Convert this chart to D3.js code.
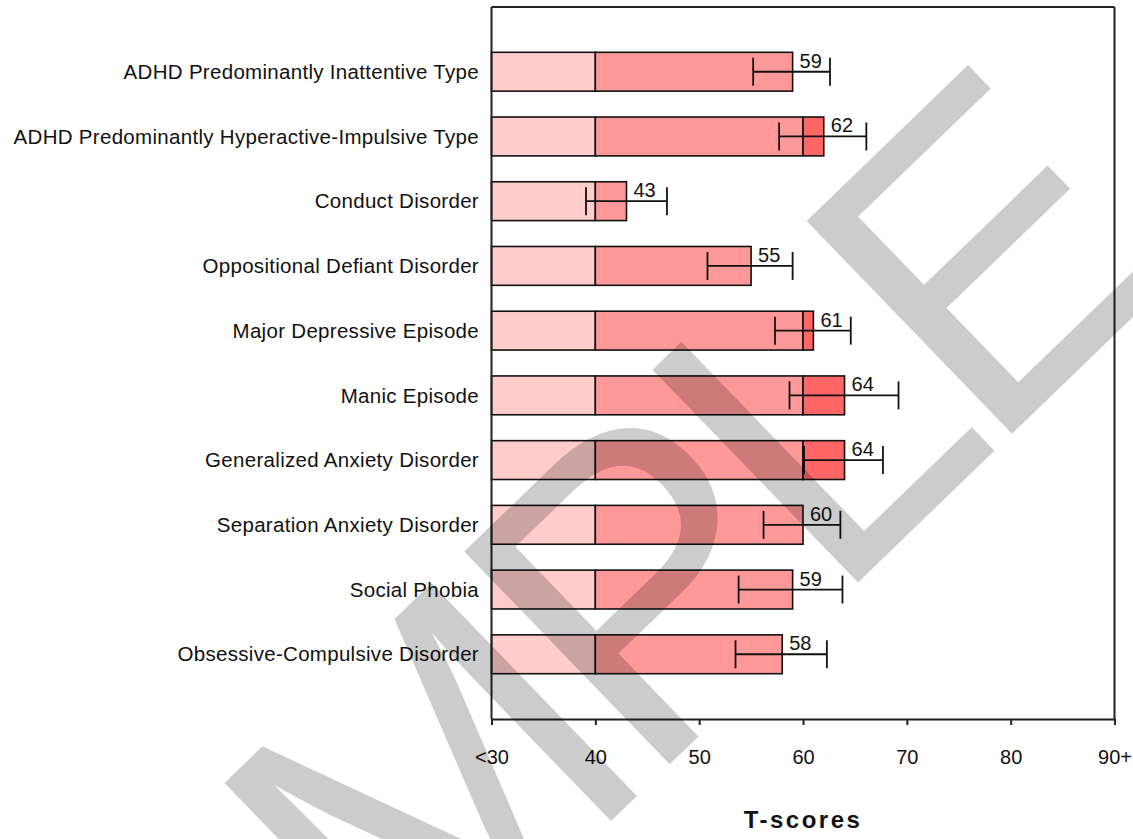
<!DOCTYPE html>
<html>
<head>
<meta charset="utf-8">
<script src="https://cdn.jsdelivr.net/npm/d3@7/dist/d3.min.js"></script>
<style>
  html, body { margin: 0; padding: 0; background: #fff; }
  svg { display: block; }
  text { font-family: "Liberation Sans", Arial, sans-serif; fill: #111; }
</style>
</head>
<body>
<svg id="chart" width="1133" height="839"></svg>
<script>
// Scale names, one row per disorder
const categories = [
  "ADHD Predominantly Inattentive Type",
  "ADHD Predominantly Hyperactive-Impulsive Type",
  "Conduct Disorder",
  "Oppositional Defiant Disorder",
  "Major Depressive Episode",
  "Manic Episode",
  "Generalized Anxiety Disorder",
  "Separation Anxiety Disorder",
  "Social Phobia",
  "Obsessive-Compulsive Disorder"
];

// T-score per scale
const scores = [59, 62, 43, 55, 61, 64, 64, 60, 59, 58];

// Confidence interval ends per scale
const ciLow  = [55.2, 57.7, 39.1, 50.8, 57.3, 58.7, 60.1, 56.2, 53.8, 53.5];
const ciHigh = [62.6, 66.1, 46.9, 59.0, 64.6, 69.2, 67.7, 63.6, 63.8, 62.3];

// Axis ticks
const tickValues = [30, 40, 50, 60, 70, 80, 90];
const tickLabels = ["<30", "40", "50", "60", "70", "80", "90+"];

// Shaded score ranges
const rangeStarts = [30, 40, 60];
const rangeEnds   = [40, 60, 90];
const rangeColors = ["#FFCCCC", "#FF9999", "#FF6666"];

const svg = d3.select("#chart");

const x = d3.scaleLinear().domain([30, 90]).range([491.5, 1114.5]);
const y = d3.scaleBand()
  .domain(categories)
  .range([7, 719])
  .paddingInner(0.4)
  .paddingOuter(0.7);

const rows = categories.map((c, i) => ({
  name: c, score: scores[i], lo: ciLow[i], hi: ciHigh[i]
}));

// Bars: one outlined segment per score range reached
const segs = [];
rows.forEach(r => {
  rangeStarts.forEach((s, k) => {
    if (r.score > s) {
      segs.push({ name: r.name, from: s, to: Math.min(r.score, rangeEnds[k]), color: rangeColors[k] });
    }
  });
});

svg.append("g").selectAll("rect")
  .data(segs)
  .join("rect")
  .attr("x", d => x(d.from))
  .attr("y", d => y(d.name))
  .attr("width", d => x(d.to) - x(d.from))
  .attr("height", y.bandwidth())
  .attr("fill", d => d.color)
  .attr("stroke", "#111")
  .attr("stroke-width", 1.6);

// Error bars
const eb = svg.append("g").attr("stroke", "#111").attr("stroke-width", 1.8);
rows.forEach(r => {
  const cy = y(r.name) + y.bandwidth() / 2;
  eb.append("line").attr("x1", x(r.lo)).attr("x2", x(r.hi)).attr("y1", cy).attr("y2", cy);
  eb.append("line").attr("x1", x(r.lo)).attr("x2", x(r.lo)).attr("y1", cy - 14).attr("y2", cy + 14);
  eb.append("line").attr("x1", x(r.hi)).attr("x2", x(r.hi)).attr("y1", cy - 14).attr("y2", cy + 14);
});

// Score labels
svg.append("g").selectAll("text")
  .data(rows)
  .join("text")
  .attr("x", d => x(d.score) + 7)
  .attr("y", d => y(d.name) + y.bandwidth() / 2 - 4)
  .attr("font-size", 20)
  .text(d => d.score);

// Category labels
svg.append("g").selectAll("text")
  .data(rows)
  .join("text")
  .attr("x", 479)
  .attr("y", d => y(d.name) + y.bandwidth() / 2)
  .attr("dy", "0.35em")
  .attr("text-anchor", "end")
  .attr("font-size", 20.5)
  .attr("letter-spacing", 0.3)
  .text(d => d.name);

// Frame
const frame = svg.append("g").attr("stroke", "#222").attr("stroke-width", 2).attr("fill", "none");
frame.append("line").attr("x1", x(30)).attr("x2", x(90)).attr("y1", 7).attr("y2", 7);
frame.append("line").attr("x1", x(90)).attr("x2", x(90)).attr("y1", 7).attr("y2", 719);
frame.append("line").attr("x1", x(30)).attr("x2", x(30)).attr("y1", 7).attr("y2", 719);

// Bottom axis
const axis = d3.axisBottom(x)
  .tickValues(tickValues)
  .tickFormat((d, i) => tickLabels[i])
  .tickSize(6)
  .tickPadding(25);
const ax = svg.append("g").attr("transform", "translate(0,719)").call(axis);
ax.select(".domain").attr("stroke", "#222").attr("stroke-width", 2);
ax.selectAll(".tick line").attr("stroke", "#222").attr("stroke-width", 2);
ax.selectAll(".tick text")
  .attr("font-size", 20)
  .attr("font-family", "Liberation Sans, Arial, sans-serif")
  .attr("fill", "#111");

// Axis title
svg.append("text")
  .attr("x", (x(30) + x(90)) / 2)
  .attr("y", 828)
  .attr("text-anchor", "middle")
  .attr("font-size", 24)
  .attr("font-weight", "bold")
  .attr("letter-spacing", 2.5)
  .text("T-scores");

// Watermark across the plot
svg.append("g")
  .attr("transform", "translate(28,1384) rotate(-44)")
  .append("text")
  .attr("font-size", 430)
  .attr("letter-spacing", -25)
  .style("fill", "#000")
  .attr("fill-opacity", 0.2)
  .text("SAMPLE");
</script>
</body>
</html>
